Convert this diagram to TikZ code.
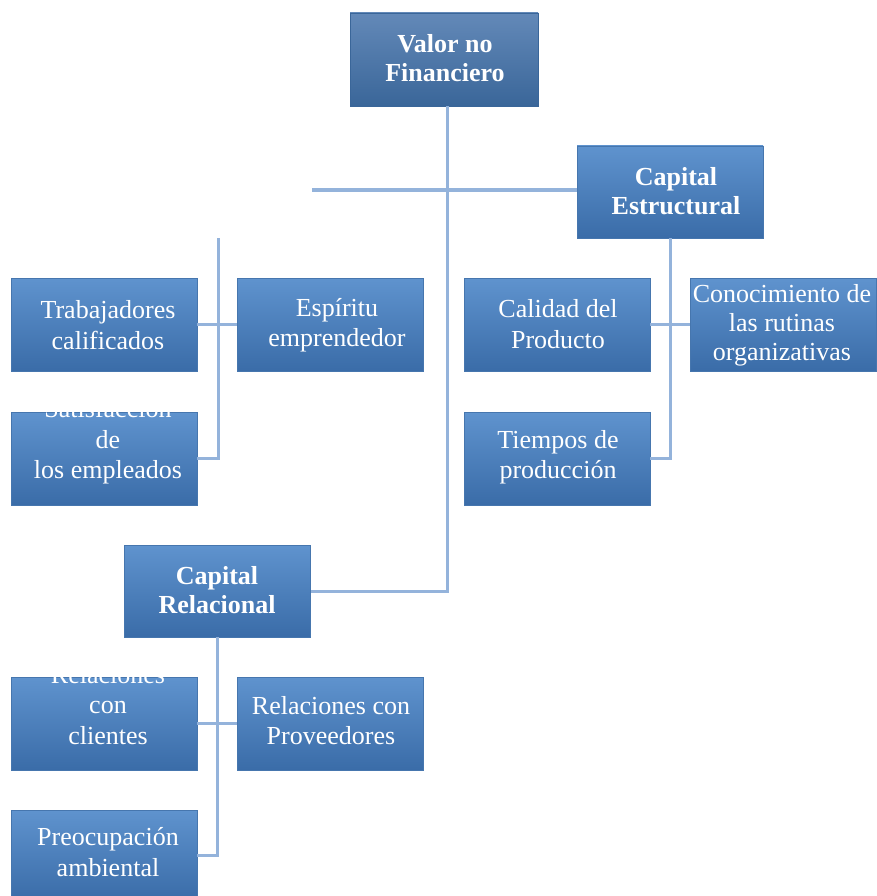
\documentclass[tikz,border=0pt]{standalone}
\usepackage{fontspec}
\setmainfont{Liberation Serif}
\definecolor{btop}{HTML}{5F93CE}
\definecolor{bbot}{HTML}{3A6CA8}
\definecolor{bedge}{HTML}{4676AE}
\definecolor{vtop}{HTML}{6389B8}
\definecolor{vbot}{HTML}{3A6699}
\definecolor{lnk}{HTML}{94B3DB}
\begin{document}
\begin{tikzpicture}[x=1pt,y=-1pt,
  box/.style={rectangle, minimum width=186pt, minimum height=93pt, inner sep=0pt,
    top color=btop, bottom color=bbot, draw=bedge, line width=0.8pt},
  vbox/.style={box, top color=vtop, bottom color=vbot, draw=vbot},
  lbl/.style={text=white, align=center, inner sep=0pt, font=\fontsize{26}{30.5}\selectfont},
  blbl/.style={lbl, font=\fontsize{26}{29.5}\selectfont\bfseries},
  conn/.style={draw=lnk, line width=3pt}]
\clip (0,0) rectangle (877,896);
\fill[white] (0,0) rectangle (877,896);
% boxes
\node[vbox, minimum width=188pt] (vnf) at (444,59.5) {};
\node[box, minimum height=92pt] (ce) at (670,192) {};
\node[box] (tc) at (104,324.5) {};
\node[box] (ee) at (330.5,324.5) {};
\node[box] (se) at (104,458.5) {};
\node[box] (cp) at (557,324.5) {};
\node[box] (co) at (783.5,324.5) {};
\node[box] (tp) at (557,458.5) {};
\node[box, minimum height=92pt] (cr) at (217.5,591) {};
\node[box] (rcl) at (104,723.5) {};
\node[box] (rp) at (330.5,723.5) {};
\node[box, minimum height=90pt] (pa) at (104,855) {};
% connectors
\coordinate (hs) at (312,190);
\coordinate (ht) at (218,238);
\draw[conn] ([xshift=3pt]vnf.south) -- ([xshift=3pt]vnf.south |- cr.east) -- (cr.east);
\draw[conn] (hs) -- (hs -| ce.west);
\draw[conn] (ht) -- (ht |- se.east) -- (se.east);
\draw[conn] (tc.east) -- (ee.west);
\draw[conn] (ce.south) -- (ce.south |- tp.east) -- (tp.east);
\draw[conn] (cp.east) -- (co.west);
\draw[conn] (cr.south) -- (cr.south |- pa.east) -- (pa.east);
\draw[conn] (rcl.east) -- (rp.west);
% labels
\node[blbl] (vnft) at (445,58) {Valor no\\Financiero};
\node[blbl] (cet) at (676,191) {Capital\\Estructural};
\node[lbl] (tct) at (108,325) {Trabajadores\\calificados};
\node[lbl] (eet) at (337,325) {Espíritu\\emprendedor};
\begin{scope}
  \clip (se.north west) rectangle (se.south east);
  \node[lbl] (set) at (108,442) {Satisfacción\\de\\los empleados};
\end{scope}
\node[lbl] (cpt) at (558,324) {Calidad del\\Producto};
\node[lbl, font=\fontsize{26}{29}\selectfont] (cot) at (782,325) {Conocimiento de\\las rutinas\\organizativas};
\node[lbl] (tpt) at (558,457) {Tiempos de\\producción};
\node[blbl] (crt) at (217,590) {Capital\\Relacional};
\begin{scope}
  \clip (rcl.north west) rectangle (rcl.south east);
  \node[lbl] (rclt) at (108,705) {Relaciones\\con\\clientes};
\end{scope}
\node[lbl] (rpt) at (331,720.5) {Relaciones con\\Proveedores};
\node[lbl] (pat) at (108,852) {Preocupación\\ambiental};
\end{tikzpicture}
\end{document}
